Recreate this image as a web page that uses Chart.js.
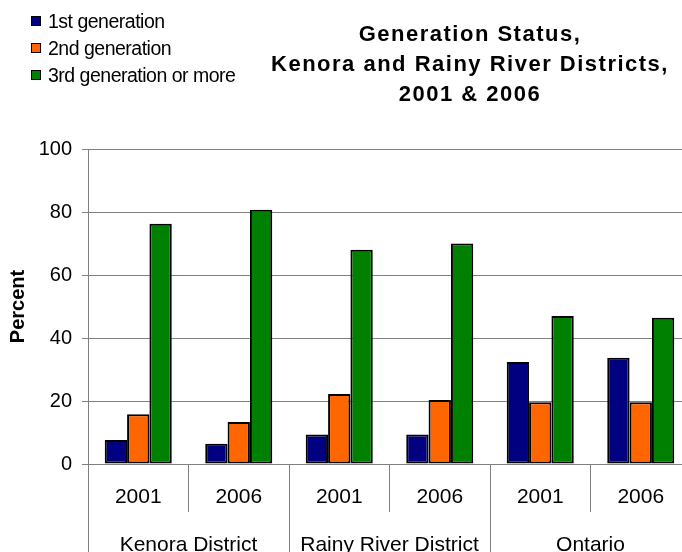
<!DOCTYPE html>
<html>
<head>
<meta charset="utf-8">
<script src="https://cdn.jsdelivr.net/npm/chart.js@4/dist/chart.umd.min.js"></script>
<style>
  html, body { margin:0; padding:0; background:#fff; overflow:hidden; width:682px; height:552px; }
  #wrap { position:absolute; left:0; top:0; width:700px; height:560px; }
  #title { position:absolute; left:240px; width:460px; top:19px; text-align:center;
    font-family:"Liberation Sans", Arial, sans-serif; font-weight:bold; font-size:22px;
    line-height:30px; letter-spacing:1.5px; color:#000; }
  #legend { position:absolute; left:31px; top:8px; font-family:"Liberation Sans", Arial, sans-serif;
    font-size:19.5px; letter-spacing:-0.5px; color:#000; }
  .row { position:relative; height:27px; line-height:27px; white-space:nowrap; }
  .sw { position:absolute; left:0; top:8px; width:8px; height:8px; border:1px solid #000; }
  .lt { position:absolute; left:17px; top:0; }
</style>
</head>
<body>
<div id="wrap"><canvas id="c" width="700" height="560"></canvas></div>
<div id="legend"></div>
<div id="title">Generation Status,<br>Kenora and Rainy River Districts,<br>2001 &amp; 2006</div>
<script>
const years = ['2001', '2006', '2001', '2006', '2001', '2006'];
const groups = ['Kenora District', 'Rainy River District', 'Ontario'];
const seriesNames = ['1st generation', '2nd generation', '3rd generation or more'];
const firstGen = [7.6, 6.4, 9.4, 9.4, 32.4, 33.7];
const secondGen = [15.8, 13.3, 22.2, 20.3, 19.6, 19.6];
const thirdGen = [76.3, 80.7, 68.0, 70.0, 47.0, 46.4];
const colors = ['#000080', '#FF6600', '#008000'];
const yTicks = [0, 20, 40, 60, 80, 100];

const values = [firstGen, secondGen, thirdGen];
const datasets = seriesNames.map((n, i) => ({
  label: n,
  data: values[i],
  backgroundColor: colors[i],
  borderColor: '#000',
  borderWidth: 2,
  borderSkipped: false,
  categoryPercentage: 0.667,
  barPercentage: 1.0,
  xAxisID: 'x'
}));

// HTML legend built from the series
const lg = document.getElementById('legend');
seriesNames.forEach((n, i) => {
  const r = document.createElement('div'); r.className = 'row';
  const s = document.createElement('div'); s.className = 'sw'; s.style.background = colors[i];
  const t = document.createElement('span'); t.className = 'lt'; t.textContent = n;
  r.appendChild(s); r.appendChild(t); lg.appendChild(r);
});

const FONT = '"Liberation Sans", Arial, sans-serif';
Chart.defaults.font.family = FONT;
Chart.defaults.color = '#000';

new Chart(document.getElementById('c'), {
  type: 'bar',
  data: { labels: years, datasets },
  options: {
    responsive: false,
    devicePixelRatio: 1,
    animation: false,
    layout: { padding: { top: 149, left: 0, right: 9, bottom: 0 } },
    plugins: { legend: { display: false }, title: { display: false }, tooltip: { enabled: false } },
    scales: {
      y: {
        min: 0, max: 100,
        afterBuildTicks: s => { s.ticks = yTicks.map(v => ({ value: v })); },
        ticks: { font: { size: 20 }, color: '#000', padding: 10 },
        grid: { color: '#808080', lineWidth: 1, tickLength: 6, drawTicks: true },
        border: { display: true, color: '#808080', width: 1 },
        title: { display: true, text: 'Percent', font: { size: 20, weight: 'bold' }, color: '#000', padding: { top: 6, bottom: 0 } },
        afterFit: s => { s.width = 88; }
      },
      x: {
        type: 'category',
        position: 'bottom',
        weight: 0,
        offset: true,
        grid: { offset: true, drawOnChartArea: false, drawTicks: true, tickLength: 48, color: '#808080', lineWidth: 1 },
        border: { display: true, color: '#808080', width: 1 },
        ticks: { font: { size: 21 }, color: '#000', padding: -27, maxRotation: 0, autoSkip: false },
        afterFit: s => { s.height = 48; }
      },
      x2: {
        type: 'category',
        position: 'bottom',
        axis: 'x',
        weight: 1,
        labels: groups,
        offset: true,
        grid: { offset: true, drawOnChartArea: false, drawTicks: true, tickLength: 48, color: '#808080', lineWidth: 1 },
        border: { display: false },
        ticks: { font: { size: 21 }, color: '#000', padding: -27, maxRotation: 0, autoSkip: false },
        afterFit: s => { s.height = 48; }
      }
    }
  }
});
</script>
</body>
</html>
